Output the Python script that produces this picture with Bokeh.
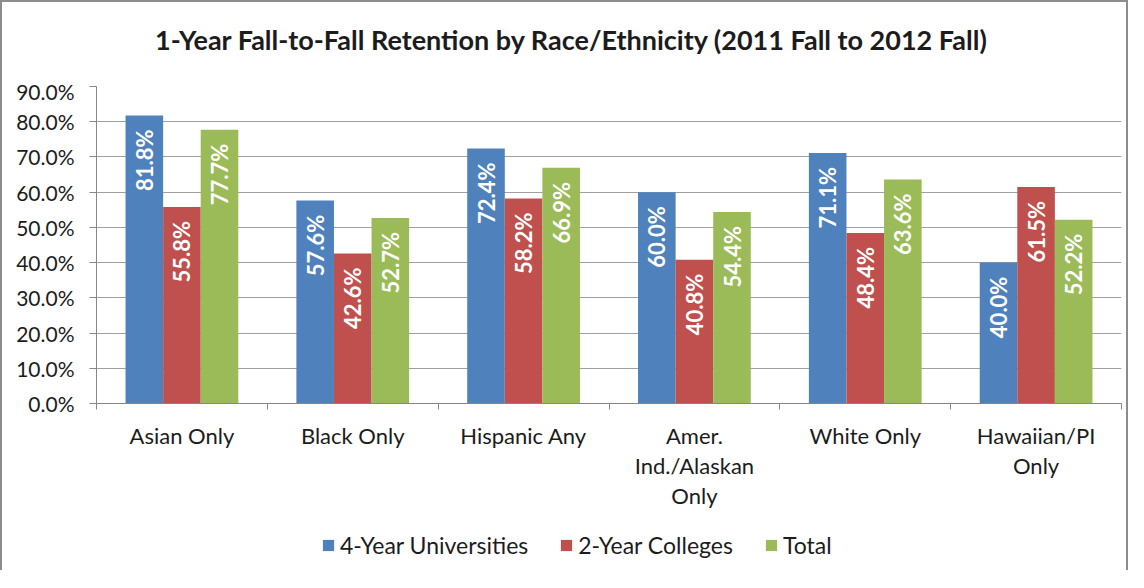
import math
from bokeh.plotting import figure
from bokeh.models import ColumnDataSource, FixedTicker, PrintfTickFormatter, Legend, LegendItem, Div
from bokeh.layouts import column
from bokeh.core.properties import value
from bokeh.embed import file_html
from bokeh.resources import INLINE

title_text = "1-Year Fall-to-Fall Retention by Race/Ethnicity (2011 Fall to 2012 Fall)"
categories = ["Asian Only", "Black Only", "Hispanic Any", "Amer.\nInd./Alaskan\nOnly", "White Only", "Hawaiian/PI\nOnly"]
series_names = ["4-Year Universities", "2-Year Colleges", "Total"]
univ4 = [81.8, 57.6, 72.4, 60.0, 71.1, 40.0]
coll2 = [55.8, 42.6, 58.2, 40.8, 48.4, 61.5]
total = [77.7, 52.7, 66.9, 54.4, 63.6, 52.2]
y_ticks = [0, 10, 20, 30, 40, 50, 60, 70, 80, 90]

colors = ["#4F81BD", "#C0504D", "#9BBB59"]
FONT = "Lato"
TXT = "#1c1c1c"

# ---- title ----
title_div = Div(
    text=('<div style="font-family: Lato; font-weight: bold; font-size: 27px; color: %s; '
          'line-height: 76px; white-space: nowrap; padding-left: 153px;">%s</div>') % (TXT, title_text),
    width=1124, height=76, margin=0)

# ---- main chart ----
p = figure(frame_width=1025, frame_height=317, output_backend="svg", toolbar_location=None,
           x_range=(0, len(categories)), y_range=(0, 90),
           min_border_left=94, min_border_right=5, min_border_top=8, min_border_bottom=120)
p.outline_line_color = None
p.background_fill_color = "white"
p.margin = 0

bar_w = 0.22
offsets = [-bar_w, 0.0, bar_w]
for vals, col, off in zip([univ4, coll2, total], colors, offsets):
    xs = [i + 0.5 + off for i in range(len(categories))]
    src = ColumnDataSource(dict(x=xs, top=vals, lab=["%.1f%%" % v for v in vals]))
    p.vbar(x="x", top="top", width=bar_w, source=src, fill_color=col, line_color=None)
    p.text(x="x", y="top", text="lab", source=src, angle=math.pi / 2,
           text_align="right", text_baseline="middle", y_offset=14,
           text_color="white", text_font=value(FONT), text_font_style="bold",
           text_font_size="22px")

centers = [i + 0.5 for i in range(len(categories))]
p.xaxis.ticker = FixedTicker(ticks=centers, minor_ticks=list(range(len(categories) + 1)))
p.xaxis.major_label_overrides = {c: lab for c, lab in zip(centers, categories)}
p.xaxis.major_tick_line_color = None
p.xaxis.major_tick_out = 6
p.xaxis.major_tick_in = 0
p.xaxis.minor_tick_out = 6
p.xaxis.minor_tick_in = 0
p.xaxis.minor_tick_line_color = "#868686"
p.xaxis.axis_line_color = "#868686"
p.xaxis.major_label_standoff = 12
p.xaxis.major_label_text_font = FONT
p.xaxis.major_label_text_font_size = "22px"
p.xaxis.major_label_text_color = TXT
p.xaxis.major_label_text_line_height = 1.125

p.yaxis.ticker = FixedTicker(ticks=y_ticks)
p.yaxis.formatter = PrintfTickFormatter(format="%.1f%%")
p.yaxis.major_tick_out = 7
p.yaxis.major_tick_in = 0
p.yaxis.minor_tick_line_color = None
p.yaxis.major_tick_line_color = "#868686"
p.yaxis.axis_line_color = "#868686"
p.yaxis.major_label_standoff = 15
p.yaxis.major_label_text_font = FONT
p.yaxis.major_label_text_font_size = "21px"
p.yaxis.major_label_text_color = TXT

p.xgrid.grid_line_color = None
p.ygrid.ticker = FixedTicker(ticks=y_ticks)
p.ygrid.grid_line_color = "#a0a0a0"

# ---- legend strip (frame aligned with the chart's frame by the column) ----
lf = figure(width=1124, height=47, output_backend="svg", toolbar_location=None,
            x_range=(0, 1), y_range=(0, 1), min_border=0)
lf.axis.visible = False
lf.grid.visible = False
lf.outline_line_color = None
lf.margin = 0
leg_renderers = []
for col in colors:
    # a zero-size swatch source well above the visible range: only the legend swatch shows
    src = ColumnDataSource(dict(x=[0.5], bottom=[50.0], top=[50.0]))
    leg_renderers.append(lf.vbar(x="x", bottom="bottom", top="top", width=0.0, source=src,
                                 fill_color=col, line_color=None))
legend = Legend(items=[LegendItem(label=n, renderers=[r]) for n, r in zip(series_names, leg_renderers)],
                orientation="horizontal", location=(225, 11),
                glyph_width=14, glyph_height=14, label_standoff=5, spacing=31,
                padding=0, margin=0, border_line_color=None, background_fill_alpha=0,
                label_text_font=FONT, label_text_font_size="23px", label_text_color=TXT,
                label_height=24)
lf.add_layout(legend, "center")

layout = column(title_div, p, lf, spacing=0)
layout.styles = {"border-left": "2px solid #8c8c8c", "border-top": "2px solid #8c8c8c",
                 "border-right": "2px solid #8c8c8c"}

open("out.html", "w").write(file_html(layout, INLINE))
